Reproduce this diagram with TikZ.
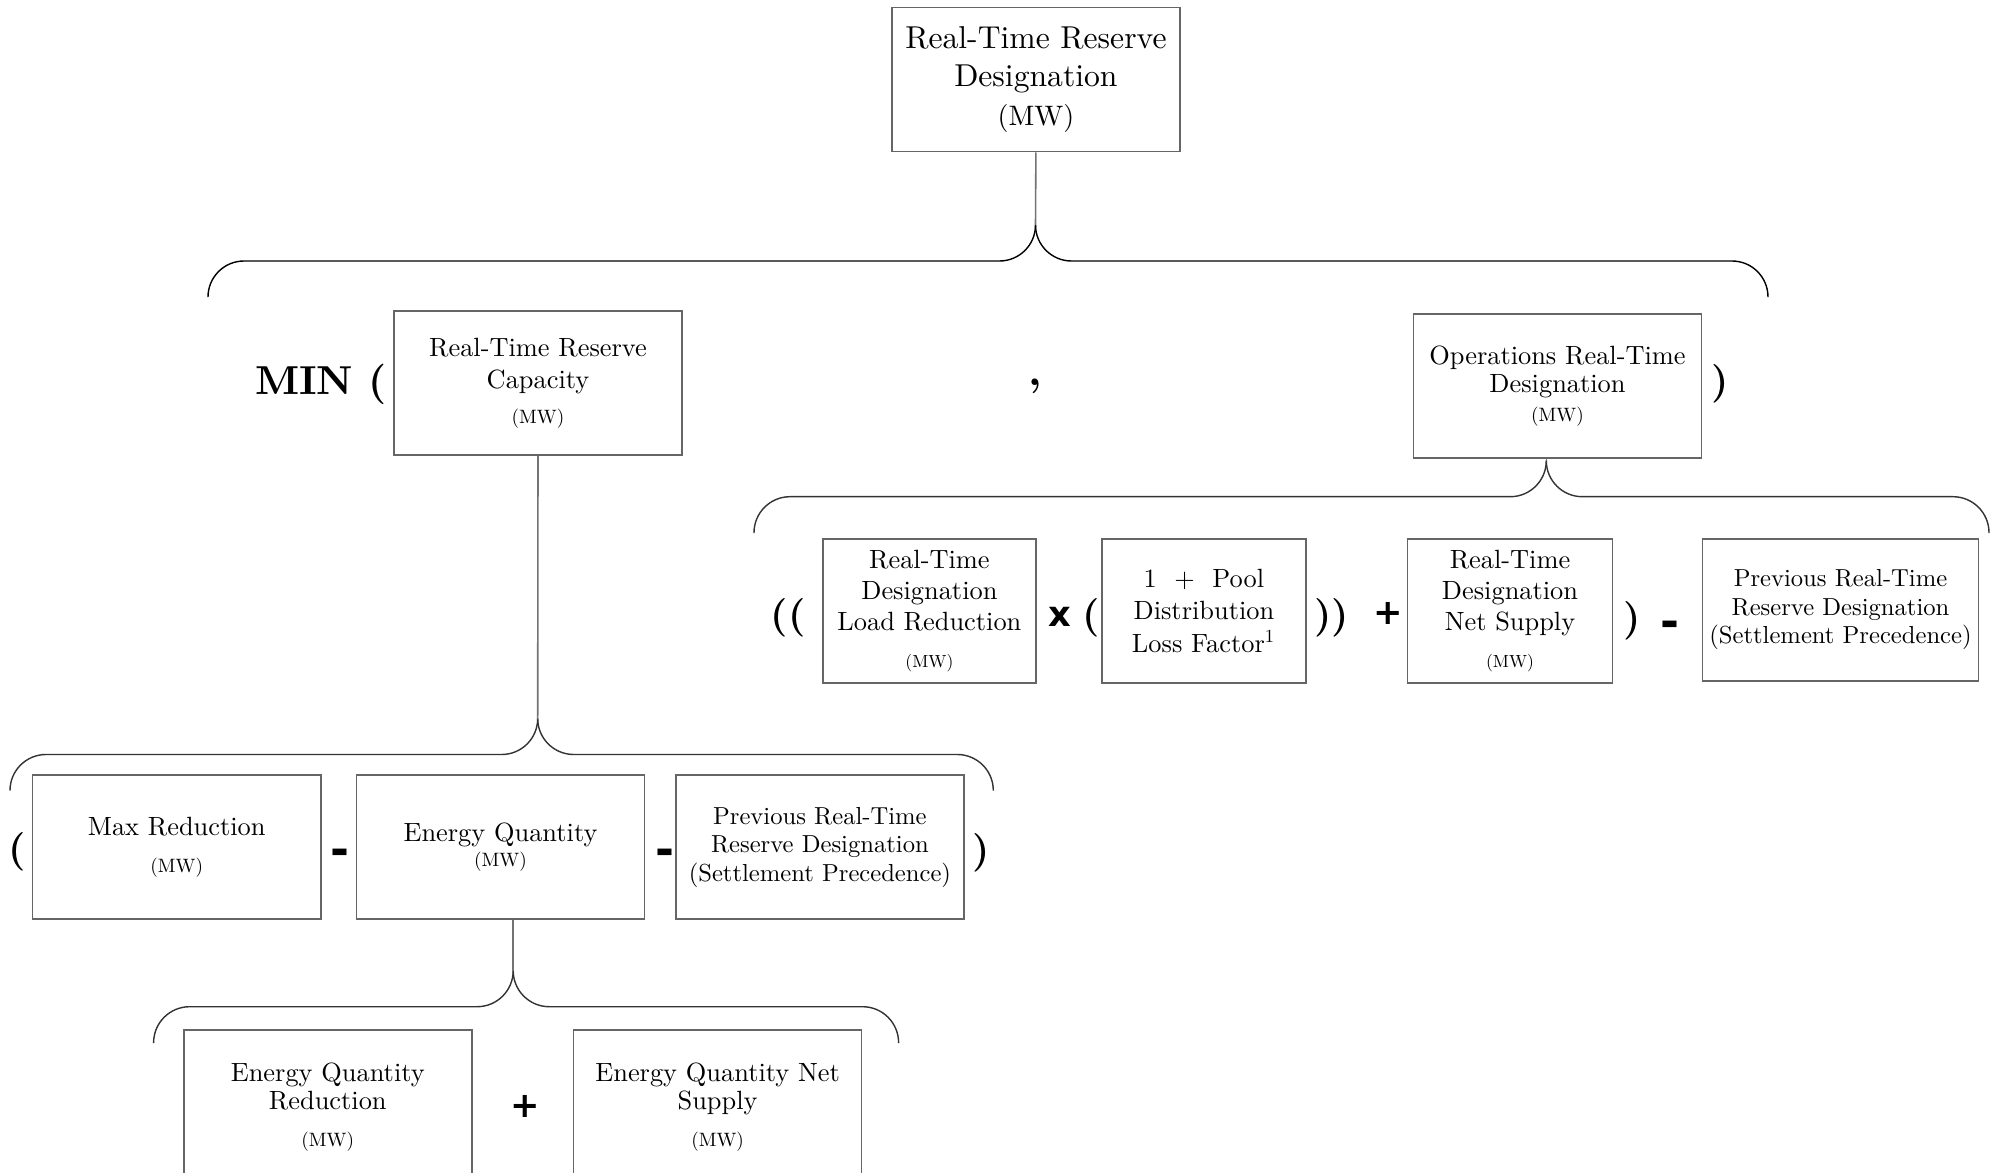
\documentclass[tikz,border=0pt]{standalone}
\usepackage{fontspec}
\setmainfont{lmroman10}[Extension=.otf, UprightFont=*-regular, BoldFont=*-bold,
  ItalicFont=*-italic, BoldItalicFont=*-bolditalic]
\newfontfamily\opfont{DejaVu Sans}

\newcommand{\mwunit}[1][5.5]{{\fontsize{#1}{#1}\selectfont (MW)}}

\begin{document}
\begin{tikzpicture}[x=0.01cm, y=-0.01cm,
    box/.style={draw=black!60, line width=0.45pt, align=center, inner sep=0pt,
      minimum width=2.88cm, minimum height=1.44cm},
    op/.style={font=\fontsize{11}{11}\selectfont\bfseries, inner sep=0pt, anchor=base},
    sym/.style={op, font=\fontsize{10}{10}\selectfont\opfont\bfseries},
    curly/.style={draw=black!80, line width=0.4pt, rounded corners=0.36cm},
    conn/.style={draw=black!55, line width=0.45pt}]
    \path[use as bounding box] (0,0) rectangle (1990,1173);

    \node[box, font=\fontsize{9}{11}\selectfont] (rtrd) at (1035.9,79.5)
      {Real-Time Reserve\\Designation\\{\fontsize{8}{8}\selectfont (MW)}};

    \node[op, font=\fontsize{11.5}{12}\selectfont\bfseries] (minop) at (321,395) {MIN (};
    \node[box, font=\fontsize{7.5}{9.1}\selectfont] (rtrc) at (538,383.2)
      {Real-Time Reserve\\Capacity\\[1pt]\mwunit};
    \node[op, font=\fontsize{12}{12}\selectfont\bfseries] (comma) at (1035.5,386) {,};
    \node[box, font=\fontsize{7.5}{7.9}\selectfont] (ortd) at (1557.5,385.9)
      {Operations Real-Time\\Designation\\[0.3pt]\mwunit};
    \node[op] (closeA) at (1720,393.7) {)};

    % right branch
    \node[op] (openF) at (788,627) {((};
    \node[box, minimum width=2.13cm, font=\fontsize{7.5}{8.8}\selectfont] (rtdlr) at (929.4,610.9)
      {Real-Time\\Designation\\Load Reduction\\[1.6pt]\mwunit[5]};
    \node[sym] (times) at (1060,626.7) {x};
    \node[op] (openG) at (1091,627) {(};
    \node[box, minimum width=2.04cm, font=\fontsize{7.5}{9.3}\selectfont] (pdlf) at (1203.9,610.9)
      {1~~+~~Pool\\Distribution\\Loss Factor\textsuperscript{1}};
    \node[op] (closeG) at (1331.5,627) {))};
    \node[sym] (plusH) at (1388,624) {+};
    \node[box, minimum width=2.05cm, font=\fontsize{7.5}{8.8}\selectfont] (rtdns) at (1510,610.9)
      {Real-Time\\Designation\\Net Supply\\[1.6pt]\mwunit[5]};
    \node[op] (closeH) at (1632,630) {)};
    \node[sym, font=\fontsize{13}{13}\selectfont\opfont\bfseries] (minusI) at (1670,637.6) {-};
    \node[box, minimum width=2.76cm, minimum height=1.42cm, font=\fontsize{7}{8.1}\selectfont] (prevrt) at (1840.5,610)
      {Previous Real-Time\\Reserve Designation\\(Settlement Precedence)};

    % left branch
    \node[op] (openA) at (17.5,861.7) {(};
    \node[box, font=\fontsize{7.5}{9}\selectfont] (maxred) at (176.7,847.2)
      {Max Reduction\\[1.4pt]\mwunit};
    \node[sym, font=\fontsize{13}{13}\selectfont\opfont\bfseries] (minusB) at (340,865.3) {-};
    \node[box, font=\fontsize{7.5}{7}\selectfont] (eq) at (500.5,847.2)
      {Energy Quantity\\\mwunit};
    \node[sym, font=\fontsize{13}{13}\selectfont\opfont\bfseries] (minusC) at (664.5,865.3) {-};
    \node[box, font=\fontsize{7}{8.1}\selectfont] (prevrtb) at (819.9,847.2)
      {Previous Real-Time\\Reserve Designation\\(Settlement Precedence)};
    \node[op] (closeC) at (981,862) {)};

    \node[box, minimum height=1.54cm, font=\fontsize{7.5}{8}\selectfont] (eqred) at (327.8,1107)
      {Energy Quantity\\Reduction\\[2.4pt]\mwunit};
    \node[sym] (plusE) at (525,1117) {+};
    \node[box, minimum height=1.54cm, font=\fontsize{7.5}{8}\selectfont] (eqns) at (717.6,1107)
      {Energy Quantity Net\\Supply\\[2.4pt]\mwunit};

    % braces
    \coordinate (tipA) at (1035.5,225);
    \coordinate (tipB) at (537.7,719);
    \coordinate (tipC) at (513.2,971);
    \coordinate (tipD) at (1546.3,461);

    \draw[curly, draw=black] (208,297) -- (208,261) -- (1035.5,261) -- (tipA);
    \draw[curly, draw=black] (1768,297) -- (1768,261) -- (1035.5,261) -- (tipA);
    \draw[curly] (10,790) -- (10,754.5) -- (537.7,754.5) -- (tipB);
    \draw[curly] (993.3,790) -- (993.3,754.5) -- (537.7,754.5) -- (tipB);
    \draw[curly] (153.6,1043) -- (153.6,1006.7) -- (513.2,1006.7) -- (tipC);
    \draw[curly] (898.6,1043) -- (898.6,1006.7) -- (513.2,1006.7) -- (tipC);
    \draw[curly] (754,533) -- (754,496.7) -- (1546.3,496.7) -- (tipD);
    \draw[curly] (1989,533) -- (1989,496.7) -- (1546.3,496.7) -- (tipD);

    \draw[conn] (rtrd.south) -- (tipA);
    \draw[conn] (rtrc.south) -- (tipB);
    \draw[conn] (tipC |- eq.south) -- (tipC);
    \draw[conn] (tipD |- ortd.south) -- (tipD);
\end{tikzpicture}
\end{document}
